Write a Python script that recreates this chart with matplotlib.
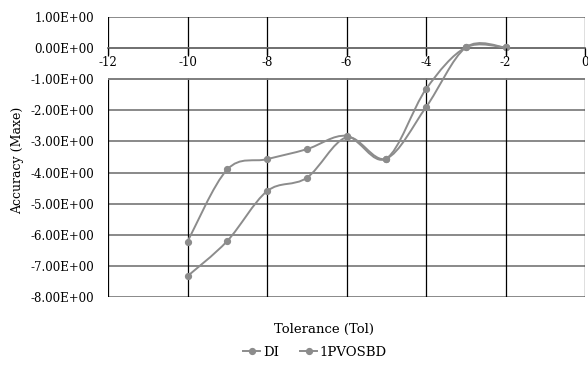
import matplotlib
matplotlib.use("Agg")
import matplotlib.pyplot as plt
from matplotlib.path import Path
from matplotlib.patches import PathPatch, Rectangle
from matplotlib.lines import Line2D
import numpy as np

plt.rcParams['font.family'] = ['DejaVu Serif']

tol = [-10, -9, -8, -7, -6, -5, -4, -3, -2]
di = [-6.22, -3.90, -3.57, -3.25, -2.82, -3.55, -1.32, 0.02, 0.02]
pvosbd = [-7.33, -6.20, -4.60, -4.17, -2.87, -3.55, -1.90, 0.02, 0.02]
series_names = ["DI", "1PVOSBD"]
x_ticks = [-12, -10, -8, -6, -4, -2, 0]
y_ticks = [1, 0, -1, -2, -3, -4, -5, -6, -7, -8]

line_color = "#8c8c8c"
fs = 8.5

fig = plt.figure(figsize=(5.88, 3.72), dpi=100)
ax = fig.add_axes([108/588, 1-297/372, (585-108)/588, (297-17)/372])
ax.set_xlim(-12, 0)
ax.set_ylim(-8, 1)

# gridlines
for y in y_ticks:
    ax.axhline(y, color="#808080", lw=1.3, zorder=1)
for x in x_ticks:
    ax.axvline(x, color="black", lw=0.9, zorder=1)

# white band where x tick labels sit
ax.add_patch(Rectangle((-12.5, -0.97), 13, 0.75, facecolor="white", edgecolor="none", zorder=2, clip_on=False))
ax.axhline(-1, color="#808080", lw=1.3, zorder=2.5)

def smooth_path(xs, ys):
    pts = np.column_stack([xs, ys]).astype(float)
    n = len(pts)
    verts = [pts[0]]
    codes = [Path.MOVETO]
    for i in range(n - 1):
        p0 = pts[i - 1] if i > 0 else pts[i]
        p1 = pts[i]
        p2 = pts[i + 1]
        p3 = pts[i + 2] if i + 2 < n else pts[i + 1]
        c1 = p1 + (p2 - p0) / 6.0
        c2 = p2 - (p3 - p1) / 6.0
        verts += [c1, c2, p2]
        codes += [Path.CURVE4] * 3
    return Path(verts, codes)

for ys in (di, pvosbd):
    ax.add_patch(PathPatch(smooth_path(tol, ys), facecolor="none", edgecolor=line_color, lw=1.4, zorder=3))
    ax.plot(tol, ys, linestyle="none", marker="o", ms=4.2, color=line_color, zorder=4)

for s in ax.spines.values():
    s.set_visible(False)
ax.spines['bottom'].set_visible(True)
ax.spines['bottom'].set_position(('data', 0))
ax.spines['bottom'].set_color("#707070")
ax.spines['bottom'].set_linewidth(1.3)
ax.spines['bottom'].set_zorder(2.6)

ax.set_xticks(x_ticks)
ax.set_xticklabels([str(v) for v in x_ticks])
ax.set_yticks(y_ticks)
ax.set_yticklabels([f"{v:.2E}" for v in y_ticks])
ax.tick_params(axis='x', direction='out', length=6, width=0.9, color="black", labelsize=fs, pad=0)
ax.tick_params(axis='y', length=0, labelsize=fs, pad=10)
ax.xaxis.set_zorder(6)
ax.yaxis.set_zorder(6)

fig.text(18/588, 1-160/372, "Accuracy (Maxe)", rotation=90, ha="center", va="center", fontsize=9)
fig.text(324/588, 1-329/372, "Tolerance (Tol)", ha="center", va="center", fontsize=9.5)

handles = [Line2D([0], [0], color=line_color, lw=1.4, marker="o", ms=4.2) for _ in series_names]
fig.legend(handles, series_names, loc="center", bbox_to_anchor=(315/588, 1-352/372), ncol=2,
           frameon=False, fontsize=9.5, handlelength=1.3, handletextpad=0.2, columnspacing=1.6)

fig.savefig("out.png", dpi=100)
